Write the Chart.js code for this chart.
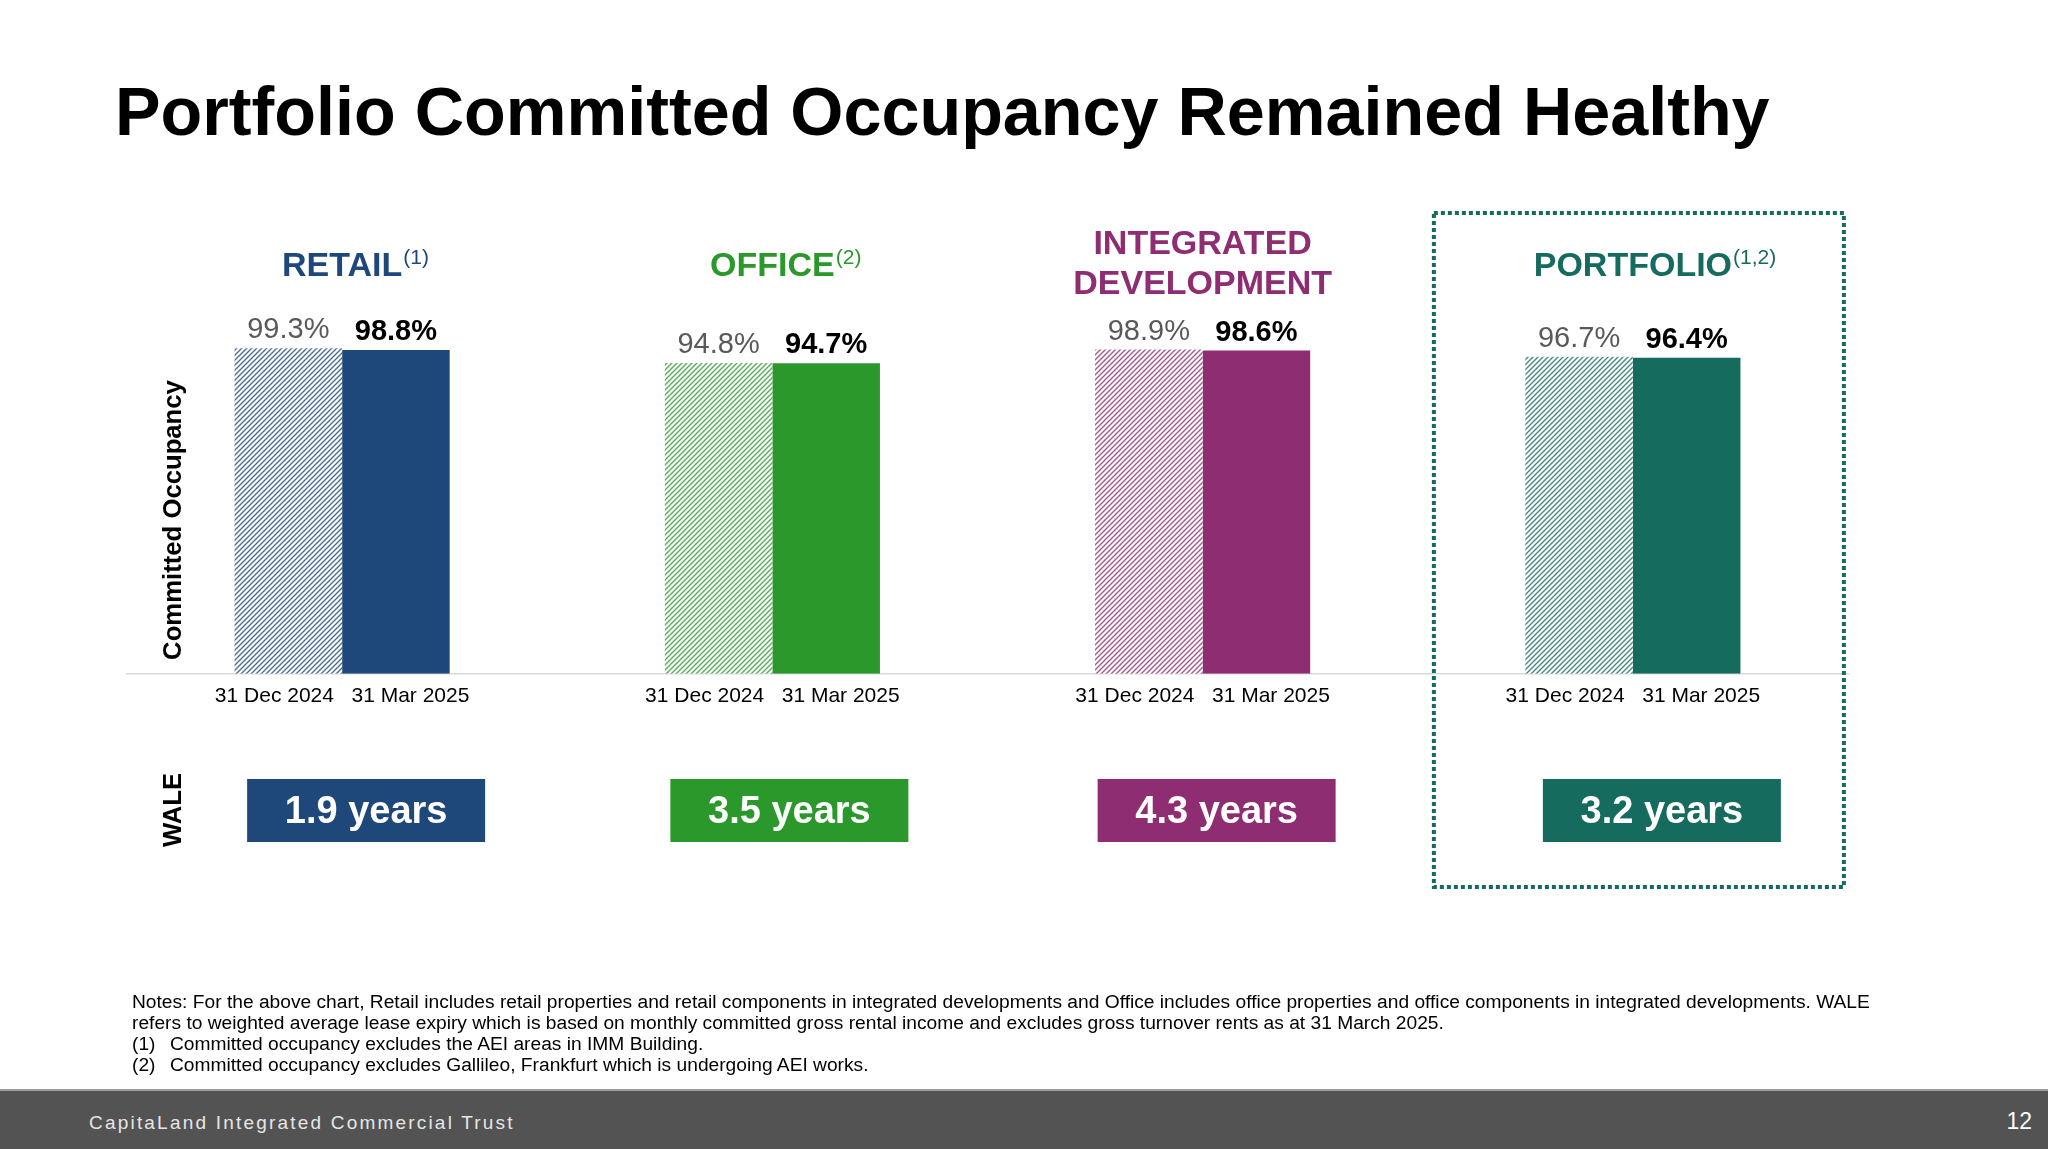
<!DOCTYPE html>
<html>
<head>
<meta charset="utf-8">
<script src="https://cdn.jsdelivr.net/npm/chart.js@4.4.1/dist/chart.umd.min.js"></script>
<style>
  html, body { margin:0; padding:0; background:#fff; }
  body { width:2048px; height:1149px; position:relative; overflow:hidden; font-family:'Liberation Sans', Arial, sans-serif; }
  #title { position:absolute; left:115px; top:71px; font-size:68.3px; font-weight:bold; color:#000; white-space:nowrap; line-height:80px; }
  #wrap { position:absolute; left:0; top:0; width:2048px; height:1149px; }
  #notes { position:absolute; left:132px; top:991px; font-size:19.2px; line-height:21px; color:#000; white-space:nowrap; }
  #notes .fn { display:block; }
  #notes .fn span.n { display:inline-block; width:38px; }
  #footer { position:absolute; left:0; top:1089px; width:2048px; height:60px; background:#535353; border-top:2px solid #9c9c9c; }
  #footer .brand { position:absolute; left:89px; top:2px; line-height:60px; font-size:19px; letter-spacing:2.2px; color:#e6e6e6; }
  #footer .page { position:absolute; right:16px; top:0; line-height:60px; font-size:23px; color:#fff; }
</style>
</head>
<body>
<div id="title">Portfolio Committed Occupancy Remained Healthy</div>
<div id="wrap"><canvas id="c"></canvas></div>
<div id="notes">
  <span class="fn">Notes: For the above chart, Retail includes retail properties and retail components in integrated developments and Office includes office properties and office components in integrated developments. WALE</span>
  <span class="fn">refers to weighted average lease expiry which is based on monthly committed gross rental income and excludes gross turnover rents as at 31 March 2025.</span>
  <span class="fn"><span class="n">(1)</span>Committed occupancy excludes the AEI areas in IMM Building.</span>
  <span class="fn"><span class="n">(2)</span>Committed occupancy excludes Gallileo, Frankfurt which is undergoing AEI works.</span>
</div>
<div id="footer"><span class="brand">CapitaLand Integrated Commercial Trust</span><span class="page">12</span></div>
<script>
// ---- data ----
const categories = [['RETAIL'], ['OFFICE'], ['INTEGRATED', 'DEVELOPMENT'], ['PORTFOLIO']];
const footnoteMarks = ['(1)', '(2)', '', '(1,2)'];
const periods = ['31 Dec 2024', '31 Mar 2025'];
const occDec2024 = [99.3, 94.8, 98.9, 96.7];
const occMar2025 = [98.8, 94.7, 98.6, 96.4];
const waleYears = [1.9, 3.5, 4.3, 3.2];
const colors = ['#1f487a', '#2a982a', '#8e2d71', '#166b5f'];

const FONT = "'Liberation Sans', Arial, sans-serif";

function hatch(color) {
  const s = 5;
  const c = document.createElement('canvas');
  c.width = s; c.height = s;
  const g = c.getContext('2d');
  g.fillStyle = '#ffffff';
  g.fillRect(0, 0, s, s);
  g.strokeStyle = color;
  g.globalAlpha = 0.8;
  g.lineWidth = 1.4;
  g.beginPath();
  g.moveTo(-1, s + 1); g.lineTo(s + 1, -1);
  g.moveTo(-1, 1); g.lineTo(1, -1);
  g.moveTo(s - 1, s + 1); g.lineTo(s + 1, s - 1);
  g.stroke();
  return g.createPattern(c, 'repeat');
}

const overlay = {
  id: 'overlay',
  afterDraw(chart) {
    const ctx = chart.ctx;
    const xs = chart.scales.x;
    const boxShift = [24, 17, 14, 29];
    ctx.save();

    // value labels
    chart.data.datasets.forEach((ds, di) => {
      const meta = chart.getDatasetMeta(di);
      meta.data.forEach((el, i) => {
        ctx.font = (di === 1 ? 'bold ' : '') + '29px ' + FONT;
        ctx.fillStyle = di === 1 ? '#000000' : '#595959';
        ctx.textAlign = 'center';
        ctx.textBaseline = 'alphabetic';
        ctx.fillText(ds.data[i].toFixed(1) + '%', el.x, el.y - 10);
      });
    });

    // headers
    categories.forEach((lines, i) => {
      const cx = xs.getPixelForValue(i);
      const base = lines.length === 1 ? [276] : [254, 294];
      lines.forEach((t, li) => {
        ctx.font = 'bold 34px ' + FONT;
        ctx.fillStyle = colors[i];
        ctx.textAlign = 'center';
        ctx.textBaseline = 'alphabetic';
        ctx.fillText(t, cx, base[li]);
        if (li === lines.length - 1 && footnoteMarks[i]) {
          const w = ctx.measureText(t).width;
          ctx.font = '21px ' + FONT;
          ctx.textAlign = 'left';
          ctx.fillText(footnoteMarks[i], cx + w / 2 + 1, base[li] - 12);
        }
      });
    });

    // WALE boxes
    waleYears.forEach((v, i) => {
      const cx = xs.getPixelForValue(i) + boxShift[i];
      ctx.fillStyle = colors[i];
      ctx.fillRect(cx - 119, 779, 238, 63);
      ctx.font = 'bold 38px ' + FONT;
      ctx.fillStyle = '#ffffff';
      ctx.textAlign = 'center';
      ctx.textBaseline = 'alphabetic';
      ctx.fillText(v.toFixed(1) + ' years', cx, 823);
    });

    // portfolio dashed frame
    const pc = xs.getPixelForValue(categories.length - 1);
    ctx.strokeStyle = colors[3];
    ctx.lineWidth = 4;
    ctx.setLineDash([4, 3]);
    ctx.strokeRect(pc - 199, 213, 410, 674);
    ctx.setLineDash([]);

    // rotated axis titles
    ctx.fillStyle = '#000';
    ctx.font = 'bold 25.7px ' + FONT;
    ctx.textAlign = 'center';
    ctx.textBaseline = 'middle';
    [['Committed Occupancy', 520], ['WALE', 810]].forEach(([t, y]) => {
      ctx.save();
      ctx.translate(174, y);
      ctx.rotate(-Math.PI / 2);
      ctx.fillText(t, 0, 0);
      ctx.restore();
    });
    ctx.restore();
  }
};

new Chart(document.getElementById('c'), {
  type: 'bar',
  data: {
    labels: categories,
    datasets: [
      { label: periods[0], data: occDec2024, backgroundColor: colors.map(hatch), borderWidth: 0 },
      { label: periods[1], data: occMar2025, backgroundColor: colors, borderWidth: 0 }
    ]
  },
  options: {
    responsive: true,
    maintainAspectRatio: false,
    animation: false,
    devicePixelRatio: 1,
    categoryPercentage: 0.5,
    barPercentage: 1.0,
    layout: { padding: { left: 127, right: 200, top: 346, bottom: 430 } },
    plugins: { legend: { display: false }, tooltip: { enabled: false } },
    scales: {
      x: {
        grid: { display: false, drawTicks: false },
        border: { display: true, color: '#d9d9d9', width: 1.5 },
        ticks: {
          autoSkip: false, maxRotation: 0, padding: 10, color: '#000',
          font: { family: FONT, size: 21 },
          callback: () => periods.join('   ')
        }
      },
      y: { display: false, min: 0, max: 100 }
    }
  },
  plugins: [overlay]
});
</script>
</body>
</html>
